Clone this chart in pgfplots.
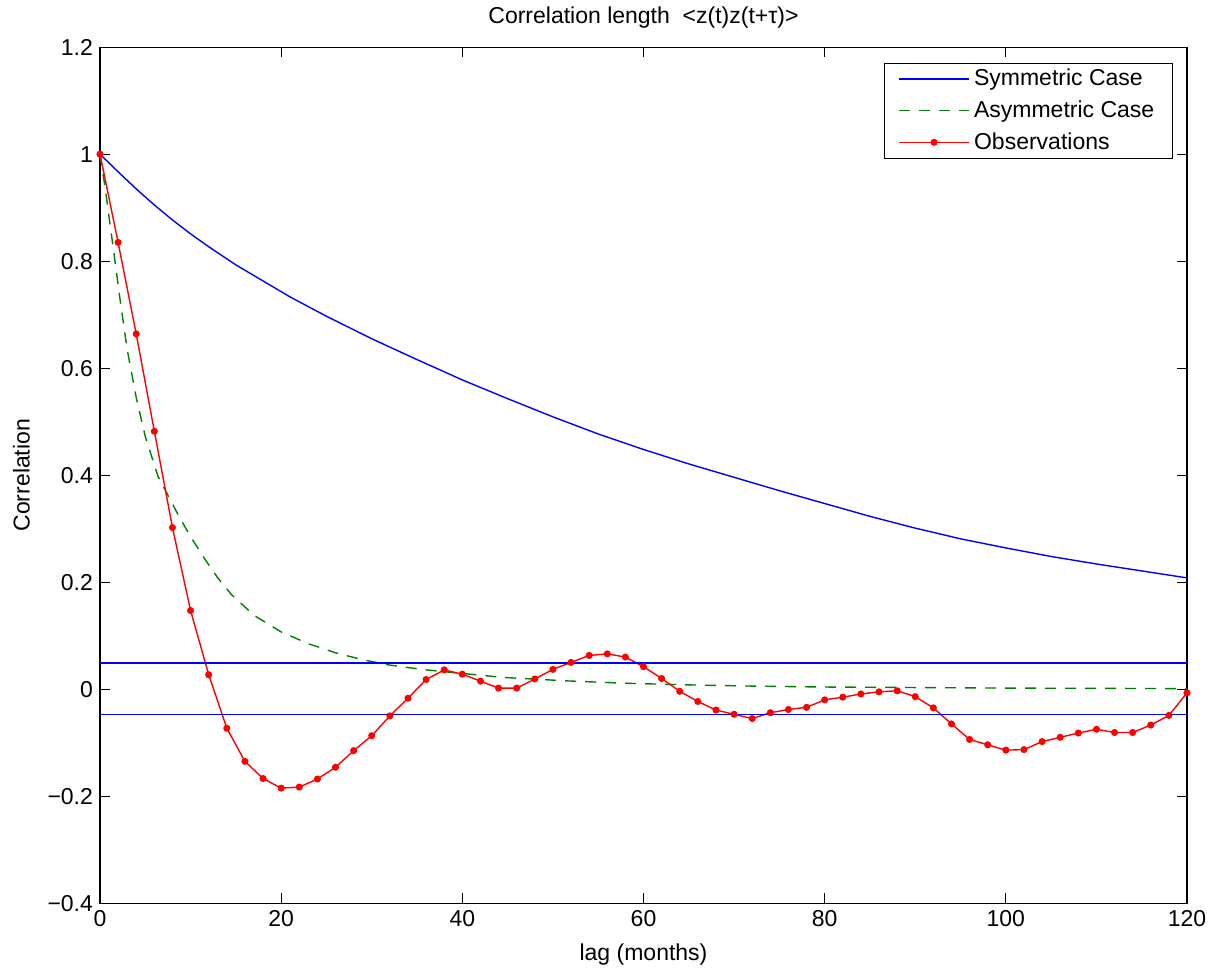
\documentclass[border=0pt]{standalone}
\usepackage{fontspec}
\setmainfont{Liberation Sans}
\usepackage{pgfplots}
\pgfplotsset{compat=1.18}

\definecolor{mblue}{rgb}{0,0,1}
\definecolor{mgreen}{rgb}{0,0.5,0}
\definecolor{mred}{rgb}{1,0,0}

\begin{document}
\begin{tikzpicture}
\begin{axis}[
    scale only axis,
    width=543.5pt, height=428pt,
    xmin=0, xmax=120, ymin=-0.4, ymax=1.2,
    xtick={0,20,...,120},
    ytick={-0.4,-0.2,0,0.2,0.4,0.6,0.8,1,1.2},
    yticklabels={−0.4,−0.2,0,0.2,0.4,0.6,0.8,1,1.2},
    /pgf/number format/assume math mode=true,
    tick align=inside, major tick length=5pt,
    tick style={black, line width=0.5pt},
    axis line style={black, line width=0.6pt},
    tick label style={font=\fontsize{11.5}{13}\selectfont},
    label style={font=\fontsize{11.5}{13}\selectfont},
    title style={font=\fontsize{11.5}{13}\selectfont},
    title={Correlation length \ <z(t)z(t+τ)>},
    xlabel={lag (months)},
    ylabel={Correlation},
    ylabel style={yshift=2pt},
    xlabel style={yshift=-2pt},
    legend style={at={(0.987,0.982)}, anchor=north east,
        font=\fontsize{11.5}{13}\selectfont, draw=black, line width=0.6pt,
        inner xsep=7pt, inner ysep=1pt, row sep=2pt, cells={anchor=west}},
    legend image code/.code={%
        \draw[mark repeat=2,mark phase=2,#1] plot coordinates {(0cm,0cm) (0.62cm,0cm) (1.24cm,0cm)};},
]
% symmetric case
\addplot[mblue, line width=0.7pt] coordinates {
 (0,1) (2,0.967) (4,0.935) (6,0.905) (8,0.877) (10,0.851) (12,0.827)
 (15,0.793) (18,0.763) (21,0.733) (25,0.697) (30,0.655) (35,0.616)
 (40,0.578) (45,0.543) (50,0.509) (55,0.477) (60,0.448) (65,0.421)
 (70,0.396) (75,0.371) (80,0.347) (85,0.323) (90,0.301) (95,0.281)
 (100,0.264) (105,0.248) (110,0.234) (115,0.221) (120,0.208)};
\addlegendentry{Symmetric Case}
% asymmetric case
\addplot[mgreen, line width=0.7pt, dash pattern=on 5.5pt off 4.5pt] coordinates {
 (0,1) (0.5,0.945) (1.5,0.82) (2.2,0.73) (3,0.635) (4,0.545) (5,0.472)
 (6.4,0.398) (8.5,0.33) (10,0.285) (11.5,0.245) (13,0.208) (14.5,0.177)
 (17,0.138) (20,0.107) (23,0.085) (26,0.068) (29,0.055) (32,0.045)
 (35.5,0.037) (39,0.031) (44.5,0.022) (51.5,0.0155) (58,0.011) (65,0.008)
 (71,0.006) (80,0.004) (90,0.003) (100,0.002) (110,0.0015) (120,0.001)};
\addlegendentry{Asymmetric Case}
% observations
\addplot[mred, line width=0.7pt, mark=*, mark size=1.4pt] coordinates {
 (0,1) (2,0.835) (4,0.664) (6,0.482) (8,0.302) (10,0.147) (12,0.027)
 (14,-0.073) (16,-0.135) (18,-0.167) (20,-0.185) (22,-0.183) (24,-0.168)
 (26,-0.146) (28,-0.115) (30,-0.087) (32,-0.050) (34,-0.017) (36,0.018)
 (38,0.036) (40,0.028) (42,0.015) (44,0.002) (46,0.002) (48,0.019)
 (50,0.037) (52,0.050) (54,0.063) (56,0.066) (58,0.060) (60,0.042)
 (62,0.020) (64,-0.004) (66,-0.023) (68,-0.039) (70,-0.047) (72,-0.055)
 (74,-0.044) (76,-0.038) (78,-0.034) (80,-0.020) (82,-0.015) (84,-0.009)
 (86,-0.005) (88,-0.003) (90,-0.014) (92,-0.035) (94,-0.065) (96,-0.094)
 (98,-0.104) (100,-0.114) (102,-0.113) (104,-0.098) (106,-0.090) (108,-0.082)
 (110,-0.075) (112,-0.081) (114,-0.081) (116,-0.067) (118,-0.049) (120,-0.007)};
\addlegendentry{Observations}
% significance bounds
\addplot[color=blue, line width=0.75pt, forget plot] coordinates {(0,0.0485) (60,0.0485) (120,0.0485)};
\addplot[color=blue, line width=0.75pt, forget plot] coordinates {(0,-0.047) (60,-0.047) (120,-0.047)};
\end{axis}
\path[use as bounding box] (-50pt,-33pt) rectangle (557.5pt,451.5pt);
\end{tikzpicture}
\end{document}
